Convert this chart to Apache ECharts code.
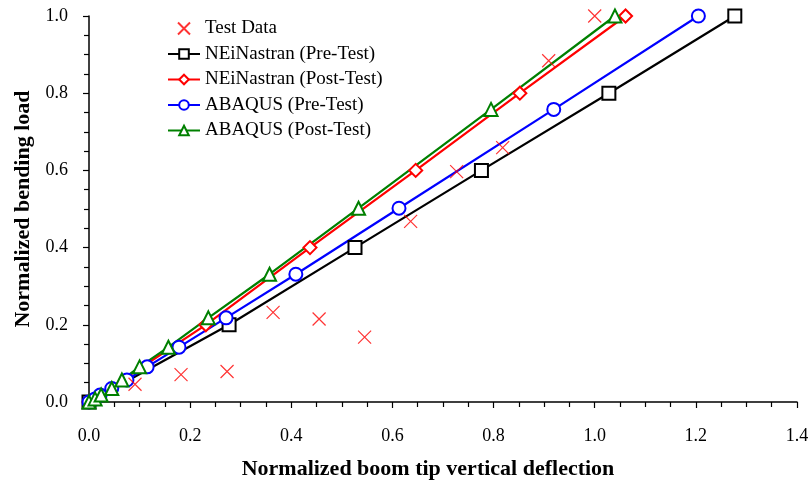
<!DOCTYPE html>
<html>
<head>
<meta charset="utf-8">
<script src="https://cdn.jsdelivr.net/npm/echarts@6/dist/echarts.min.js"></script>
<style>
html, body { margin: 0; padding: 0; background: #fff; }
#chart { width: 812px; height: 485px; }
</style>
</head>
<body>
<div id="chart"></div>
<script>
// test data (red crosses)
var testX = [0.091, 0.182, 0.273, 0.364, 0.455, 0.545, 0.636, 0.727, 0.818, 0.909, 1.0];
var testY = [0.046, 0.071, 0.079, 0.232, 0.215, 0.168, 0.468, 0.597, 0.659, 0.884, 1.0];

// NEiNastran
var neiPreX  = [0, 0.277, 0.526, 0.776, 1.028, 1.277];
var neiPostX = [0, 0.231, 0.437, 0.646, 0.852, 1.061];
var neiY     = [0, 0.2, 0.4, 0.6, 0.8, 1.0];

// ABAQUS
var abqY     = [0, 0.008, 0.018, 0.035, 0.057, 0.091, 0.142, 0.218, 0.331, 0.502, 0.758, 1.0];
var abqPreX  = [0, 0.012, 0.022, 0.045, 0.075, 0.115, 0.178, 0.271, 0.409, 0.613, 0.919, 1.205];
var abqPostX = [0, 0.012, 0.024, 0.045, 0.065, 0.100, 0.157, 0.236, 0.357, 0.533, 0.795, 1.040];

var xTicks = [0, 0.2, 0.4, 0.6, 0.8, 1.0, 1.2, 1.4];
var yTicks = [0, 0.2, 0.4, 0.6, 0.8, 1.0];

var names = ['Test Data', 'NEiNastran (Pre-Test)', 'NEiNastran (Post-Test)', 'ABAQUS (Pre-Test)', 'ABAQUS (Post-Test)'];

function pairs(xs, ys) {
    var out = [];
    for (var i = 0; i < xs.length; i++) out.push([xs[i], ys[i]]);
    return out;
}

var serif = '"Liberation Serif", "DejaVu Serif", serif';

function lineSeries(name, xs, ys, color, symbol) {
    return {
        name: name,
        type: 'line',
        data: pairs(xs, ys),
        symbol: symbol,
        symbolSize: 13,
        showAllSymbol: true,
        lineStyle: { color: color, width: 2.2 },
        itemStyle: { color: color, borderColor: color, borderWidth: 1.5 },
        z: 2
    };
}

var myChart = echarts.init(document.getElementById('chart'), null, { renderer: 'canvas' });
var option = {
    backgroundColor: '#fff',
    animation: false,
    grid: { left: 89, right: 15, top: 16, bottom: 77 },
    legend: {
        data: names,
        orient: 'vertical',
        left: 167,
        top: 19,
        padding: 0,
        itemWidth: 32,
        itemHeight: 12,
        itemGap: 6.5,
        textStyle: { fontFamily: serif, fontSize: 19, color: '#000' }
    },
    xAxis: {
        type: 'value',
        min: xTicks[0],
        max: xTicks[xTicks.length - 1],
        interval: 0.2,
        name: 'Normalized boom tip vertical deflection',
        nameLocation: 'middle',
        nameGap: 56,
        nameTextStyle: { fontFamily: serif, fontSize: 22, fontWeight: 'bold', color: '#000', padding: [0, 30, 0, 0] },
        axisLine: { lineStyle: { color: '#000', width: 1.5 } },
        axisTick: { show: true, length: 6, lineStyle: { color: '#000', width: 1.2 } },
        minorTick: { show: true, splitNumber: 4, length: 5, lineStyle: { color: '#000', width: 1.2 } },
        splitLine: { show: false },
        axisLabel: {
            margin: 25,
            fontFamily: serif, fontSize: 18, color: '#000',
            formatter: function (v) { return v.toFixed(1); }
        }
    },
    yAxis: {
        type: 'value',
        min: yTicks[0],
        max: yTicks[yTicks.length - 1],
        interval: 0.2,
        name: 'Normalized bending load',
        nameLocation: 'middle',
        nameGap: 50,
        nameTextStyle: { fontFamily: serif, fontSize: 22, fontWeight: 'bold', color: '#000' },
        axisLine: { show: true, lineStyle: { color: '#000', width: 1.5 } },
        axisTick: { show: true, length: 6, lineStyle: { color: '#000', width: 1.2 } },
        minorTick: { show: true, splitNumber: 4, length: 5, lineStyle: { color: '#000', width: 1.2 } },
        splitLine: { show: false },
        axisLabel: {
            margin: 21,
            fontFamily: serif, fontSize: 18, color: '#000',
            formatter: function (v) { return v.toFixed(1); }
        }
    },
    series: [
        lineSeries(names[1], neiPreX, neiY, '#000000', 'emptyRect'),
        lineSeries(names[2], neiPostX, neiY, '#ff0000', 'emptyDiamond'),
        lineSeries(names[3], abqPreX, abqY, '#0000ff', 'emptyCircle'),
        lineSeries(names[4], abqPostX, abqY, '#008000', 'emptyTriangle'),
        {
            name: names[0],
            type: 'scatter',
            data: pairs(testX, testY),
            symbol: 'path://M0,0L10,10M10,0L0,10',
            symbolSize: 13,
            itemStyle: { color: '#ff0000', borderColor: '#ff0000', borderWidth: 1.2 },
            z: 5
        }
    ]
};
myChart.setOption(option);
</script>
</body>
</html>
